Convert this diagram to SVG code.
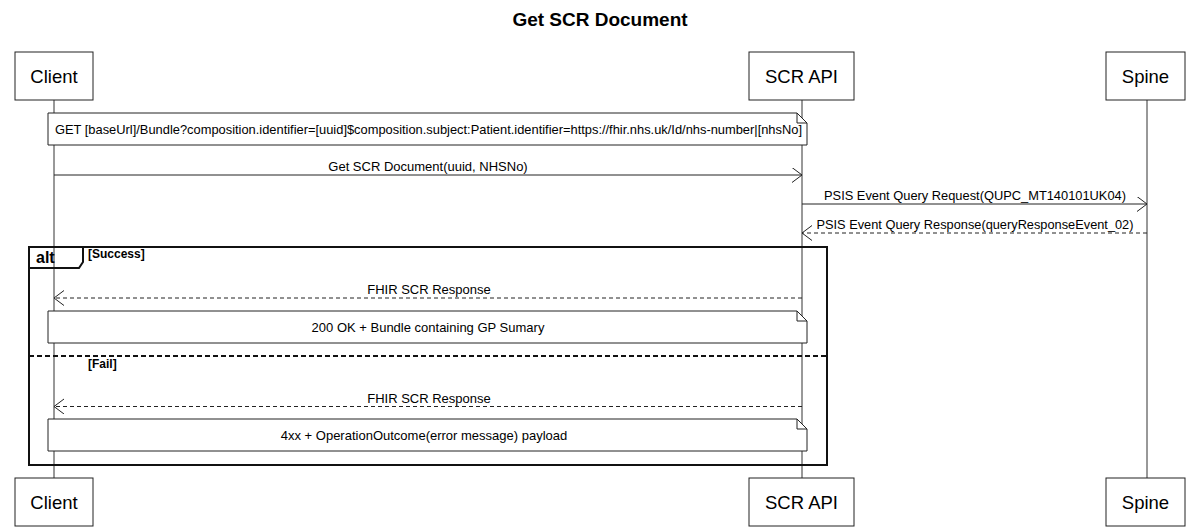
<svg xmlns="http://www.w3.org/2000/svg" width="1200" height="530" viewBox="0 0 1200 530">
<defs>
<style>
text{font-family:"Liberation Sans",Arial,sans-serif;fill:#000}
.title{font-size:19px;font-weight:bold}
.pt{font-size:18.5px}
.msg{font-size:13px}
.note-t{font-size:13px}
.box{fill:#fff;stroke:#222;stroke-width:1}
.life{stroke:#333;stroke-width:1;fill:none}
.line{stroke:#222;stroke-width:1;fill:none}
.dash{stroke:#222;stroke-width:1;fill:none;stroke-dasharray:4,3}
.note{fill:#fff;stroke:#222;stroke-width:1}
.frame{fill:none;stroke:#111;stroke-width:2}
.sep{stroke:#111;stroke-width:2;fill:none;stroke-dasharray:5,3}
.lbl{font-size:12px;font-weight:bold}
.alt{font-size:16px;font-weight:bold}
</style>
<marker id="arr" markerWidth="12" markerHeight="16" refX="10" refY="7.5" orient="auto" markerUnits="userSpaceOnUse">
<path d="M0,0 L10,7.5 L0,15" fill="none" stroke="#222" stroke-width="1"/>
</marker>
</defs>
<rect width="1200" height="530" fill="#fff"/>
<text class="title" x="600" y="26" text-anchor="middle">Get SCR Document</text>

<g id="lifelines">
<line class="life" x1="54" y1="100" x2="54" y2="478"/>
<line class="life" x1="802" y1="100" x2="802" y2="478"/>
<line class="life" x1="1147" y1="100" x2="1147" y2="478"/>
</g>

<g id="alt-frame">
<rect class="frame" x="29" y="247" width="798" height="218"/>
<path class="frame" d="M29,268 L79,268 L83,262 L83,247"/>
<text class="alt" x="36" y="263">alt</text>
<text class="lbl" x="88" y="258">[Success]</text>
<line class="sep" x1="29" y1="356" x2="827" y2="356"/>
<text class="lbl" x="88" y="368">[Fail]</text>
</g>

<g id="connectors">
<line class="line" x1="54" y1="175" x2="802" y2="175" marker-end="url(#arr)"/>
<text class="msg" x="428" y="171" text-anchor="middle">Get SCR Document(uuid, NHSNo)</text>
<line class="line" x1="802" y1="204" x2="1147" y2="204" marker-end="url(#arr)"/>
<text class="msg" x="975" y="200" text-anchor="middle" textLength="302" lengthAdjust="spacingAndGlyphs">PSIS Event Query Request(QUPC_MT140101UK04)</text>
<line class="dash" x1="1147" y1="233" x2="802" y2="233" marker-end="url(#arr)"/>
<text class="msg" x="975" y="229" text-anchor="middle" textLength="317" lengthAdjust="spacingAndGlyphs">PSIS Event Query Response(queryResponseEvent_02)</text>
<line class="dash" x1="802" y1="298" x2="54" y2="298" marker-end="url(#arr)"/>
<text class="msg" x="429" y="294" text-anchor="middle">FHIR SCR Response</text>
<line class="dash" x1="802" y1="406.5" x2="54" y2="406.5" marker-end="url(#arr)"/>
<text class="msg" x="429" y="402.5" text-anchor="middle">FHIR SCR Response</text>
</g>

<g id="note-request">
<path class="note" d="M48,113 L797,113 L807,123 L807,145 L48,145 Z"/>
<path class="line" d="M797,113 L797,123 L807,123"/>
<text class="note-t" x="55" y="134" textLength="747" lengthAdjust="spacingAndGlyphs">GET [baseUrl]/Bundle?composition.identifier=[uuid]$composition.subject:Patient.identifier=https://fhir.nhs.uk/Id/nhs-number|[nhsNo]</text>
</g>

<g id="note-success">
<path class="note" d="M48,311 L797,311 L807,321 L807,343 L48,343 Z"/>
<path class="line" d="M797,311 L797,321 L807,321"/>
<text class="note-t" x="428" y="331.5" text-anchor="middle">200 OK + Bundle containing GP Sumary</text>
</g>

<g id="note-fail">
<path class="note" d="M48,419 L797,419 L807,429 L807,451 L48,451 Z"/>
<path class="line" d="M797,419 L797,429 L807,429"/>
<text class="note-t" x="424" y="439.5" text-anchor="middle">4xx + OperationOutcome(error message) payload</text>
</g>

<g id="client-top"><rect class="box" x="15" y="52" width="78" height="48"/><text class="pt" x="54" y="83" text-anchor="middle">Client</text></g>
<g id="scrapi-top"><rect class="box" x="749" y="52" width="105" height="48"/><text class="pt" x="801.5" y="83" text-anchor="middle">SCR API</text></g>
<g id="spine-top"><rect class="box" x="1106" y="52" width="79" height="48"/><text class="pt" x="1145.5" y="83" text-anchor="middle">Spine</text></g>
<g id="client-bottom"><rect class="box" x="15" y="478" width="78" height="48"/><text class="pt" x="54" y="509" text-anchor="middle">Client</text></g>
<g id="scrapi-bottom"><rect class="box" x="749" y="478" width="105" height="48"/><text class="pt" x="801.5" y="509" text-anchor="middle">SCR API</text></g>
<g id="spine-bottom"><rect class="box" x="1106" y="478" width="79" height="48"/><text class="pt" x="1145.5" y="509" text-anchor="middle">Spine</text></g>
</svg>
